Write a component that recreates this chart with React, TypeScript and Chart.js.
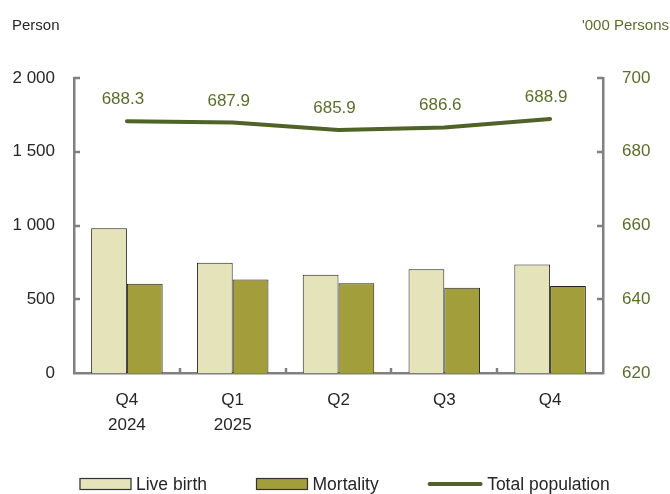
import React, { useEffect, useRef } from "react";
import { Chart, registerables } from "chart.js";

Chart.register(...registerables);

const categories: string[][] = [["Q4", "2024"], ["Q1", "2025"], ["Q2"], ["Q3"], ["Q4"]];
const liveBirth: number[] = [982, 747, 666, 704, 736];
const mortality: number[] = [605, 634, 609, 578, 589];
const totalPopulation: number[] = [688.3, 687.9, 685.9, 686.6, 688.9];
const leftTicks: number[] = [0, 500, 1000, 1500, 2000];
const rightTicks: number[] = [620, 640, 660, 680, 700];
const seriesNames: string[] = ["Live birth", "Mortality", "Total population"];

const FONT = "'Liberation Sans', Arial, sans-serif";
const AXIS_GREY = "#808080";
const LIVE_COLOR = "#E5E3B9";
const MORT_COLOR = "#A19E3B";
const LINE_COLOR = "#4F6228";
const GREEN_TEXT = "#5A6E2C";
const DARK_TEXT = "#262626";

const fmtThousands = (v: number) =>
  String(v).replace(/\B(?=(\d{3})+(?!\d))/g, " ");

const decorPlugin = {
  id: "decor",
  afterDatasetsDraw(chart: any) {
    const ctx = chart.ctx;
    const meta = chart.getDatasetMeta(2);
    ctx.save();
    ctx.font = `17px ${FONT}`;
    ctx.fillStyle = GREEN_TEXT;
    ctx.textAlign = "center";
    ctx.textBaseline = "alphabetic";
    meta.data.forEach((pt: any, i: number) => {
      ctx.fillText(totalPopulation[i].toFixed(1), pt.x - 4, pt.y - 17);
    });
    ctx.restore();
  },
  afterDraw(chart: any) {
    const ctx = chart.ctx;
    const area = chart.chartArea;
    const yL = chart.scales.y;
    const yR = chart.scales.y1;
    const xs = chart.scales.x;
    ctx.save();
    ctx.strokeStyle = AXIS_GREY;
    ctx.lineWidth = 2.5;
    ctx.lineCap = "butt";
    leftTicks.forEach((v) => {
      if (v === leftTicks[0]) return;
      const y = Math.round(yL.getPixelForValue(v));
      ctx.beginPath();
      ctx.moveTo(area.left, y);
      ctx.lineTo(area.left + 6, y);
      ctx.stroke();
    });
    rightTicks.forEach((v) => {
      if (v === rightTicks[0]) return;
      const y = Math.round(yR.getPixelForValue(v));
      ctx.beginPath();
      ctx.moveTo(area.right, y);
      ctx.lineTo(area.right - 6, y);
      ctx.stroke();
    });
    for (let i = 1; i < categories.length; i++) {
      const x = Math.round((xs.getPixelForValue(i - 1) + xs.getPixelForValue(i)) / 2);
      ctx.beginPath();
      ctx.moveTo(x, area.bottom);
      ctx.lineTo(x, area.bottom - 5);
      ctx.stroke();
    }

    ctx.font = `15px ${FONT}`;
    ctx.textBaseline = "middle";
    ctx.textAlign = "left";
    ctx.fillStyle = DARK_TEXT;
    ctx.fillText("Person", 12, 26);
    ctx.fillStyle = GREEN_TEXT;
    ctx.textAlign = "right";
    ctx.fillText("'000 Persons", 669, 26);

    ctx.font = `17.5px ${FONT}`;
    ctx.textAlign = "left";
    ctx.textBaseline = "middle";
    const cy = 484;
    let x = 79.5;
    const ds = chart.data.datasets;
    for (let i = 0; i < seriesNames.length; i++) {
      const d = ds[i];
      let w = 52;
      if (d.type === "line") {
        w = 55;
        ctx.strokeStyle = d.borderColor;
        ctx.lineWidth = 4;
        ctx.lineCap = "round";
        ctx.beginPath();
        ctx.moveTo(x + 2, cy);
        ctx.lineTo(x + w - 2, cy);
        ctx.stroke();
      } else {
        ctx.fillStyle = d.backgroundColor;
        ctx.fillRect(x, cy - 6, w, 12);
        ctx.strokeStyle = "#333333";
        ctx.lineWidth = 1.2;
        ctx.strokeRect(x + 0.5, cy - 5.5, w - 1, 11);
      }
      ctx.fillStyle = DARK_TEXT;
      const tx = x + w + 4.5;
      ctx.fillText(seriesNames[i], tx, cy + 1);
      x = tx + ctx.measureText(seriesNames[i]).width + 49;
    }
    ctx.restore();
  },
};

export default function App() {
  const ref = useRef<HTMLCanvasElement | null>(null);
  useEffect(() => {
    if (!ref.current) return;
    const chart = new Chart(ref.current, {
      type: "bar",
      data: {
        labels: categories,
        datasets: [
          {
            type: "bar",
            label: seriesNames[0],
            data: liveBirth,
            backgroundColor: LIVE_COLOR,
            borderColor: "#1f1f1f",
            borderWidth: 1,
            yAxisID: "y",
            order: 2,
            categoryPercentage: 0.676,
            barPercentage: 1,
          } as any,
          {
            type: "bar",
            label: seriesNames[1],
            data: mortality,
            backgroundColor: MORT_COLOR,
            borderColor: "#1f1f1f",
            borderWidth: 1,
            yAxisID: "y",
            order: 2,
            categoryPercentage: 0.676,
            barPercentage: 1,
          } as any,
          {
            type: "line",
            label: seriesNames[2],
            data: totalPopulation,
            borderColor: LINE_COLOR,
            backgroundColor: LINE_COLOR,
            borderWidth: 4,
            borderCapStyle: "round",
            pointRadius: 0,
            tension: 0,
            yAxisID: "y1",
            order: 0,
          } as any,
        ],
      },
      options: {
        responsive: false,
        animation: false,
        devicePixelRatio: 1,
        layout: { padding: { top: 78, left: 0, right: 0, bottom: 0 } },
        plugins: {
          legend: { display: false },
          tooltip: { enabled: false },
        },
        scales: {
          x: {
            grid: { display: false, drawTicks: false },
            border: { display: true, color: AXIS_GREY, width: 2.5 },
            ticks: {
              color: DARK_TEXT,
              font: { family: FONT, size: 17, lineHeight: 1.45 },
              padding: 15,
              maxRotation: 0,
              autoSkip: false,
            },
            afterFit: (s: any) => {
              s.height = 121;
            },
          },
          y: {
            position: "left",
            min: 0,
            max: 2000,
            afterBuildTicks: (s: any) => {
              s.ticks = leftTicks.map((v) => ({ value: v }));
            },
            grid: { display: false, drawTicks: false },
            border: { display: true, color: AXIS_GREY, width: 2.5 },
            ticks: {
              color: DARK_TEXT,
              font: { family: FONT, size: 17 },
              padding: 19,
              callback: (v: any) => fmtThousands(Number(v)),
            },
            afterFit: (s: any) => {
              s.width = 74;
            },
          },
          y1: {
            position: "right",
            min: 620,
            max: 700,
            afterBuildTicks: (s: any) => {
              s.ticks = rightTicks.map((v) => ({ value: v }));
            },
            grid: { display: false, drawTicks: false },
            border: { display: true, color: AXIS_GREY, width: 2.5 },
            ticks: {
              color: GREEN_TEXT,
              font: { family: FONT, size: 17 },
              padding: 19,
              callback: (v: any) => String(v),
            },
            afterFit: (s: any) => {
              s.width = 67;
            },
          },
        },
      },
      plugins: [decorPlugin],
    });
    return () => chart.destroy();
  }, []);
  return (
    <div style={{ position: "fixed", left: 0, top: 0, width: 670, height: 494, background: "#fff" }}>
      <canvas ref={ref} width={670} height={494} style={{ display: "block" }} />
    </div>
  );
}
